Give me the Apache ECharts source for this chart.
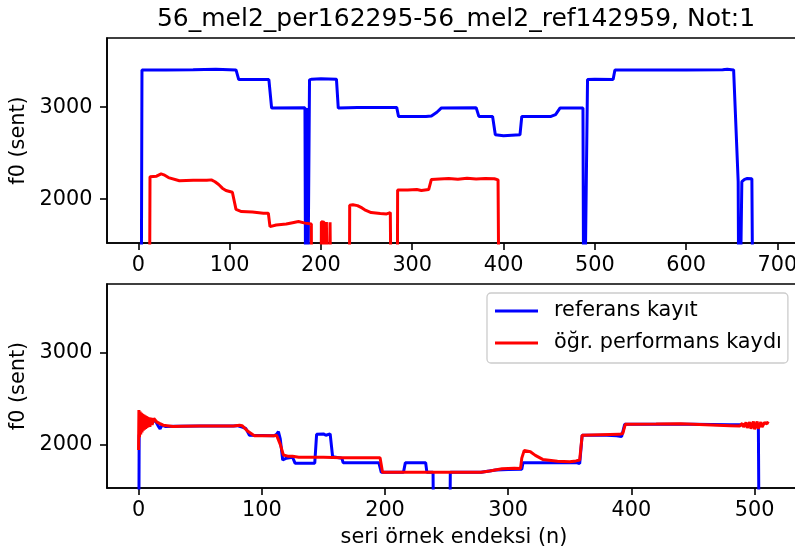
<!DOCTYPE html>
<html>
<head>
<meta charset="utf-8">
<script src="https://cdn.jsdelivr.net/npm/echarts@6/dist/echarts.min.js"></script>
<style>
  html, body { margin: 0; padding: 0; background: #fff; }
  #chart { width: 795px; height: 558px; }
</style>
</head>
<body>
<div id="chart"></div>
<script>
// values (0 = dropped below the axis, clipped like in the original)
const topRefX = [3, 4, 30, 60, 85, 107, 110, 143, 146, 182.5, 183.5, 184.5, 185, 186.5, 187.5, 190, 200, 217, 219, 230, 240, 283, 285, 315, 321, 327, 332, 370, 373, 388, 391, 400, 418, 420, 452, 457, 462, 487, 488, 490, 492, 500, 520, 522, 600, 640, 645, 652, 657, 658, 660, 661, 664, 667, 672, 673.5]
const topRefY = [0, 3405, 3405, 3408, 3412, 3405, 3300, 3300, 2990, 2995, 0, 2990, 0, 0, 3297, 3305, 3310, 3305, 2990, 2995, 2998, 2998, 2900, 2898, 2905, 2945, 2992, 2995, 2900, 2900, 2700, 2690, 2700, 2900, 2900, 2920, 2992, 2992, 0, 0, 3300, 3305, 3300, 3405, 3405, 3408, 3413, 3405, 2190, 0, 0, 2190, 2215, 2225, 2222, 0]

const topPerfX = [12, 12.8, 20, 25, 28, 33, 45, 60, 75, 80, 84, 88, 92, 96, 103, 107, 113, 125, 137, 142.4, 144.2, 151, 162, 169, 175.4, 182.7, 189.5, 190, 200, 200.5, 201.5, 202.5, 203.5, 204, 205.5, 206, 207, 208, 209.5, 210, 211, 211.5, 213.5, 214, 231, 231.5, 235, 240, 245, 248, 255, 265, 272, 276, 277, 277.5, 283.5, 284, 295, 305, 310, 318, 319.5, 321, 330, 340, 350, 360, 370, 380, 390, 394, 395.5]
const topPerfY = [0, 2245, 2250, 2275, 2265, 2235, 2200, 2205, 2205, 2210, 2190, 2160, 2120, 2095, 2075, 1890, 1866, 1860, 1848, 1848, 1702, 1720, 1730, 1745, 1757, 1740, 1730, 0, 0, 1755, 1752, 1755, 1750, 0, 0, 1752, 1750, 0, 0, 1750, 1745, 0, 0, 0, 0, 1935, 1940, 1930, 1905, 1885, 1855, 1845, 1840, 1855, 1855, 0, 0, 2100, 2100, 2105, 2095, 2105, 2120, 2215, 2220, 2225, 2218, 2228, 2220, 2225, 2222, 2210, 0]

const botRefX = [0, 0.5, 3, 8, 12, 14, 16, 17.5, 19, 22, 30, 50, 77, 80, 84, 87, 90, 110, 112, 113.5, 115, 117, 120, 125, 127, 143, 144.5, 150, 152, 155.5, 157.5, 165, 166, 195, 197, 215, 216.5, 233, 234, 239, 240, 252, 253, 278, 290, 300, 311, 312, 330, 356, 358, 360, 380, 388, 392, 394.5, 420, 450, 480, 500, 503, 504]
const botRefY = [0, 2100, 2180, 2230, 2260, 2250, 2200, 2170, 2210, 2195, 2198, 2200, 2200, 2205, 2190, 2175, 2100, 2095, 2110, 2140, 2060, 1830, 1850, 1860, 1795, 1795, 2110, 2115, 2100, 2115, 1865, 1850, 1800, 1800, 1695, 1695, 1800, 1800, 1695, 1695, 0, 0, 1695, 1695, 1720, 1725, 1728, 1800, 1800, 1800, 1790, 2100, 2100, 2095, 2085, 2220, 2220, 2220, 2215, 2215, 2210, 0]

const botPerfX = [0, 0.3, 0.8, 1.3, 1.8, 2.3, 2.8, 3.3, 3.8, 4.3, 4.8, 5.3, 5.8, 6.3, 6.8, 7.3, 7.8, 8.5, 9.2, 10, 11, 12.4, 14.6, 17, 20, 28, 35, 50, 65, 77, 82, 84, 89, 94, 110, 112, 115, 117.5, 121, 125, 130, 150, 165, 180, 196, 198, 230, 260, 278, 285, 295, 305, 310, 311, 313, 318, 322, 328, 340, 350, 355, 358, 360, 375, 390, 393, 395, 420, 440, 460, 480, 488, 490, 491, 493, 494, 496, 497, 499, 500, 502, 503, 505, 506, 508, 510, 511]
const botPerfY = [1940, 2375, 2080, 2360, 2110, 2345, 2130, 2335, 2150, 2325, 2160, 2318, 2170, 2310, 2180, 2302, 2188, 2296, 2192, 2290, 2215, 2284, 2247, 2230, 2210, 2195, 2198, 2200, 2200, 2200, 2210, 2205, 2140, 2095, 2095, 2100, 2000, 1885, 1872, 1870, 1860, 1860, 1855, 1855, 1855, 1695, 1695, 1695, 1695, 1710, 1735, 1740, 1738, 1850, 1935, 1920, 1880, 1836, 1815, 1810, 1820, 1830, 2100, 2105, 2110, 2120, 2220, 2222, 2225, 2215, 2205, 2200, 2230, 2190, 2240, 2180, 2245, 2170, 2250, 2165, 2250, 2170, 2245, 2190, 2240, 2225, 2250]

const topXTicks = [0, 100, 200, 300, 400, 500, 600, 700]
const botXTicks = [0, 100, 200, 300, 400, 500]
const yTicks = [2000, 3000]

const REF = 'referans kayıt'
const PERF = 'öğr. performans kaydı'
const FONT = 'DejaVu Sans'

function pairs(xs, ys) {
  return xs.map((x, i) => [x, ys[i]])
}

function xAxisOf(grid, min, max, ticks, name) {
  return {
    type: 'value', gridIndex: grid, min, max,
    name: name || '', nameLocation: 'middle', nameGap: 39,
    nameTextStyle: { fontFamily: FONT, fontSize: 20.8, color: '#000' },
    splitLine: { show: false },
    axisLine: { show: true, onZero: false, lineStyle: { color: '#000', width: 1.6 } },
    axisTick: { show: true, length: 7, customValues: ticks, lineStyle: { color: '#000', width: 1.6 } },
    axisLabel: { customValues: ticks, margin: 12, fontFamily: FONT, fontSize: 20.8, color: '#000', formatter: v => String(v) }
  }
}

function yAxisOf(grid) {
  return {
    type: 'value', gridIndex: grid, min: 1524, max: 3752,
    name: 'f0 (sent)', nameLocation: 'middle', nameGap: 76, nameRotate: 90,
    nameTextStyle: { fontFamily: FONT, fontSize: 20.8, color: '#000' },
    splitLine: { show: false },
    axisLine: { show: true, onZero: false, lineStyle: { color: '#000', width: 1.6 } },
    axisTick: { show: true, length: 7, customValues: yTicks, lineStyle: { color: '#000', width: 1.6 } },
    axisLabel: { customValues: yTicks, margin: 14.5, fontFamily: FONT, fontSize: 20.8, color: '#000', formatter: v => String(v) }
  }
}

function lineSeries(name, color, xi, data) {
  return {
    name, type: 'line', xAxisIndex: xi, yAxisIndex: xi, data,
    symbol: 'none', showSymbol: false, clip: true,
    itemStyle: { color },
    lineStyle: { color, width: 3 }
  }
}

const chart = echarts.init(document.getElementById('chart'))
chart.setOption({
  animation: false,
  backgroundColor: '#fff',
  title: {
    text: '56_mel2_per162295-56_mel2_ref142959, Not:1',
    left: 451, top: 2, textAlign: 'center',
    textStyle: { fontFamily: FONT, fontSize: 25, fontWeight: 'normal', color: '#000' }
  },
  // both frames run past the right edge of the picture, as in the reference
  grid: [
    { left: 107, top: 38, width: 694, height: 205, outerBoundsMode: 'none', containLabel: false, show: true, borderColor: '#000', borderWidth: 1.6 },
    { left: 107, top: 284, width: 694, height: 204, outerBoundsMode: 'none', containLabel: false, show: true, borderColor: '#000', borderWidth: 1.6 }
  ],
  xAxis: [
    xAxisOf(0, -34.3, 725.8, topXTicks),
    xAxisOf(1, -25.6, 537.6, botXTicks, 'seri örnek endeksi (n)')
  ],
  yAxis: [yAxisOf(0), yAxisOf(1)],
  legend: {
    data: [REF, PERF],
    orient: 'vertical', left: 487, top: 293,
    icon: 'rect', itemWidth: 43, itemHeight: 3, itemGap: 8,
    padding: [6, 6, 8, 8],
    backgroundColor: 'rgba(255,255,255,0.8)',
    borderColor: '#cccccc', borderWidth: 1.3, borderRadius: 4,
    textStyle: { fontFamily: FONT, fontSize: 20.8, color: '#000', lineHeight: 24, padding: [0, 0, 0, 11] }
  },
  series: [
    lineSeries(REF, '#0000ff', 0, pairs(topRefX, topRefY)),
    lineSeries(PERF, '#ff0000', 0, pairs(topPerfX, topPerfY)),
    lineSeries(REF, '#0000ff', 1, pairs(botRefX, botRefY)),
    lineSeries(PERF, '#ff0000', 1, pairs(botPerfX, botPerfY))
  ]
})
</script>
</body>
</html>
